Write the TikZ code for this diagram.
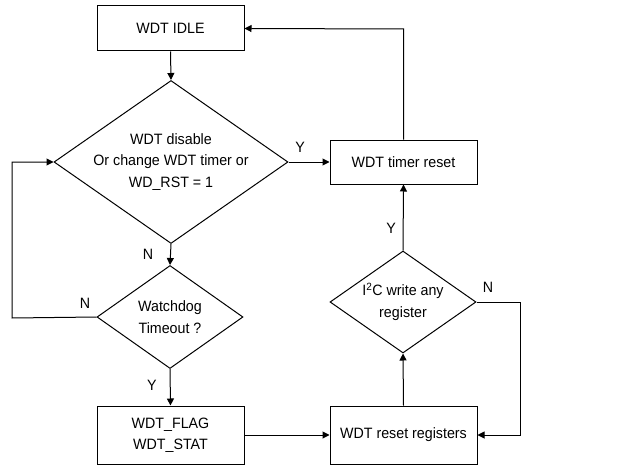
\documentclass[tikz,border=0pt]{standalone}
\usepackage{fontspec}
\setmainfont[FakeStretch=0.95]{Liberation Sans}
\usetikzlibrary{arrows.meta,shapes.geometric}
\begin{document}
\begin{tikzpicture}[x=1pt,y=-1pt,
  every node/.style={font=\fontsize{15}{21.5}\selectfont},
  box/.style={draw,line width=1pt,minimum width=147pt,inner sep=0pt},
  dia/.style={draw,diamond,line width=1pt,inner sep=0pt},
  txt/.style={align=center,inner sep=0pt},
  conn/.style={line width=1pt,-{Triangle[length=7pt,width=7pt]}},
  lbl/.style={inner sep=0pt}]
\useasboundingbox (0,0) rectangle (642,468);
\node[box,minimum height=45pt] (idle) at (170.5,28.5) {WDT IDLE};
\node[dia,minimum width=234pt,minimum height=163pt] (d1) at (171,162) {};
\node[txt] (d1t) at (d1.center) {WDT disable\\Or change WDT timer or\\WD\_RST = 1};
\node[box,minimum height=44pt] (treset) at (403.5,162) {WDT timer reset};
\node[dia,minimum width=146pt,minimum height=103pt] (d2) at (170,317) {};
\node[txt] (d2t) at (d2.center) {Watchdog\\Timeout ?};
\node[box,minimum height=58pt] (flag) at (170.5,435) {};
\node[txt] (flagt) at (flag.center) {WDT\_FLAG\\WDT\_STAT};
\node[box,minimum height=58pt] (rreg) at (403.5,435) {WDT reset registers};
\node[dia,minimum width=146pt,minimum height=102pt] (d3) at (403,302) {};
\node[txt] (d3t) at (d3.center) {I\textsuperscript{2}C write any\\register};
\coordinate (c1) at (12,318);
\coordinate (c2) at (12,162);
\coordinate (c3) at (403.5,29);
\coordinate (c4) at (520,302);
\coordinate (c5) at (520,435);
\draw[conn] (idle.south) -- (d1.north);
\draw[conn] (d1.east) -- (treset.west);
\draw[conn] (treset.north) -- (c3) -- (idle.east);
\draw[conn] (d1.south) -- (d2.north);
\draw[conn] (d2.west) -- (c1) -- (c2) -- (d1.west);
\draw[conn] (d2.south) -- (flag.north);
\draw[conn] (flag.east) -- (rreg.west);
\draw[conn] (rreg.north) -- (d3.south);
\draw[conn] (d3.north) -- (treset.south);
\draw[conn] (d3.east) -- (c4) -- (c5) -- (rreg.east);
\node[lbl] (ly1) at (300,147) {Y};
\node[lbl] (ln1) at (148,254) {N};
\node[lbl] (ln2) at (85,303) {N};
\node[lbl] (ly2) at (152,385) {Y};
\node[lbl] (ly3) at (391,228) {Y};
\node[lbl] (ln3) at (488,287) {N};
\end{tikzpicture}
\end{document}
